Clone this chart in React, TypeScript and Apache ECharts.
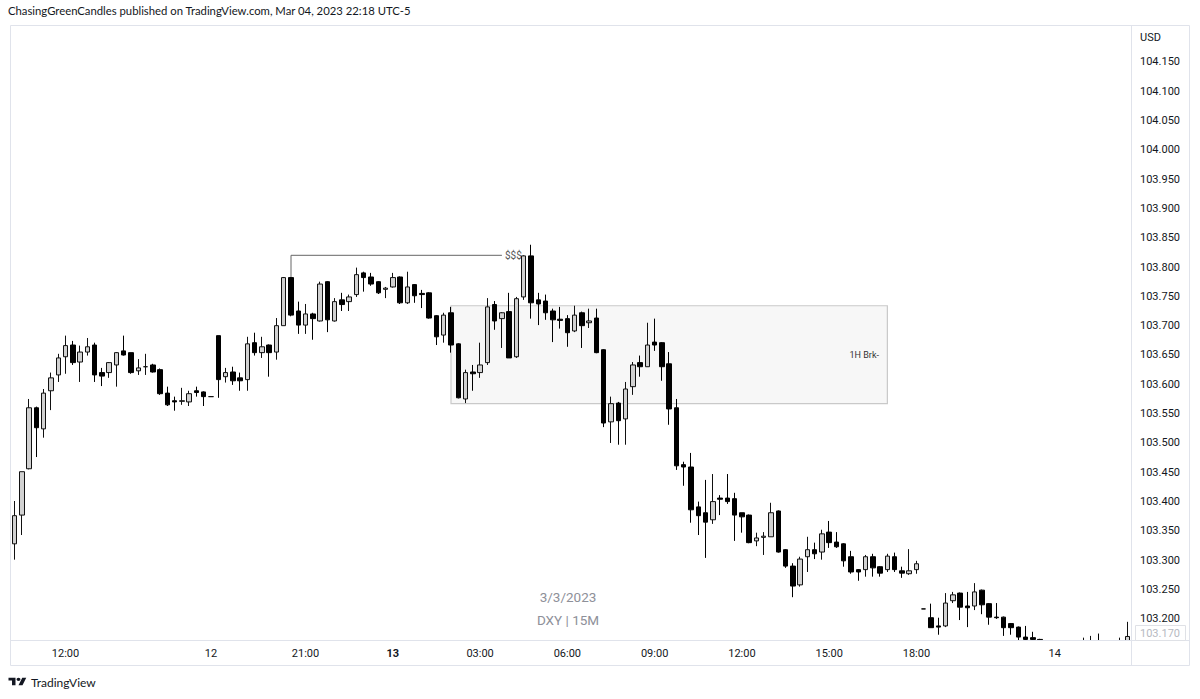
import React, { useEffect, useRef } from "react";
import * as echarts from "echarts";

// 15-minute DXY candles (0-based index along the time axis)
const opens = [
  103.328, 103.377, 103.456, 103.560, 103.524, 103.589, 103.616, 103.647, 103.667, 103.638,
  103.655, 103.667, 103.620, 103.620, 103.633, 103.657, 103.654, 103.623, 103.630, 103.633,
  103.625, 103.585, 103.572, 103.571, 103.570, 103.589, 103.587, 103.579, 103.683, 103.613,
  103.621, 103.611, 103.608, 103.671, 103.654, 103.667, 103.655, 103.700, 103.782, 103.725,
  103.701, 103.720, 103.708, 103.775, 103.708, 103.744, 103.741, 103.753, 103.790, 103.783,
  103.775, 103.762, 103.766, 103.783, 103.739, 103.770, 103.755, 103.756, 103.717, 103.684,
  103.722, 103.669, 103.575, 103.621, 103.620, 103.637, 103.736, 103.712, 103.724, 103.647,
  103.749, 103.819, 103.744, 103.742, 103.725, 103.711, 103.712, 103.691, 103.722, 103.705,
  103.713, 103.659, 103.536, 103.568, 103.541, 103.596, 103.637, 103.630, 103.672, 103.671,
  103.635, 103.560, 103.463, 103.459, 103.391, 103.381, 103.369, 103.406, 103.406, 103.405,
  103.381, 103.377, 103.333, 103.339, 103.340, 103.384, 103.318, 103.290, 103.258, 103.306,
  103.318, 103.314, 103.348, 103.331, 103.328, 103.306, 103.284, 103.284, 103.306, 103.289,
  103.284, 103.306, 103.282, 103.277, 103.284, 103.217, 103.202, 103.188, 103.188, 103.231,
  103.244, 103.222, 103.222, 103.249, 103.226, 103.203, 103.203, 103.192, 103.186, 103.169,
  103.168, 103.165, 103.158, 103.150, 103.145, 103.140, 103.148, 103.152, 103.155, 103.158,
  103.150, 103.152, 103.156, 103.160,
];
const closes = [
  103.376, 103.451, 103.560, 103.526, 103.585, 103.611, 103.645, 103.666, 103.637, 103.655,
  103.664, 103.616, 103.614, 103.637, 103.654, 103.650, 103.620, 103.628, 103.630, 103.621,
  103.584, 103.565, 103.570, 103.572, 103.584, 103.586, 103.579, 103.579, 103.608, 103.620,
  103.606, 103.606, 103.669, 103.654, 103.664, 103.654, 103.700, 103.782, 103.718, 103.701,
  103.720, 103.712, 103.771, 103.710, 103.741, 103.736, 103.749, 103.787, 103.782, 103.771,
  103.756, 103.764, 103.782, 103.739, 103.766, 103.751, 103.753, 103.713, 103.681, 103.718,
  103.667, 103.577, 103.620, 103.618, 103.633, 103.732, 103.708, 103.722, 103.645, 103.746,
  103.819, 103.739, 103.737, 103.722, 103.710, 103.709, 103.688, 103.718, 103.700, 103.708,
  103.654, 103.534, 103.567, 103.538, 103.592, 103.633, 103.630, 103.667, 103.667, 103.630,
  103.558, 103.461, 103.459, 103.386, 103.376, 103.365, 103.400, 103.404, 103.400, 103.377,
  103.374, 103.330, 103.338, 103.341, 103.381, 103.314, 103.290, 103.256, 103.302, 103.318,
  103.311, 103.345, 103.330, 103.323, 103.299, 103.280, 103.280, 103.306, 103.287, 103.278,
  103.307, 103.284, 103.278, 103.282, 103.294, 103.217, 103.185, 103.186, 103.227, 103.241,
  103.220, 103.219, 103.246, 103.224, 103.203, 103.202, 103.185, 103.185, 103.169, 103.165,
  103.165, 103.158, 103.150, 103.145, 103.140, 103.148, 103.152, 103.155, 103.158, 103.150,
  103.152, 103.156, 103.160, 103.170,
];
const lows = [
  103.301, 103.343, 103.455, 103.476, 103.509, 103.556, 103.604, 103.618, 103.633, 103.604,
  103.649, 103.604, 103.597, 103.611, 103.596, 103.649, 103.618, 103.616, 103.616, 103.620,
  103.582, 103.563, 103.555, 103.565, 103.563, 103.579, 103.563, 103.579, 103.577, 103.603,
  103.599, 103.589, 103.589, 103.649, 103.645, 103.613, 103.642, 103.700, 103.716, 103.686,
  103.686, 103.676, 103.707, 103.689, 103.707, 103.725, 103.725, 103.749, 103.758, 103.768,
  103.754, 103.747, 103.765, 103.737, 103.737, 103.739, 103.730, 103.712, 103.667, 103.671,
  103.654, 103.576, 103.568, 103.589, 103.611, 103.633, 103.693, 103.662, 103.645, 103.645,
  103.744, 103.712, 103.701, 103.710, 103.672, 103.695, 103.664, 103.689, 103.662, 103.696,
  103.653, 103.527, 103.500, 103.497, 103.497, 103.582, 103.613, 103.630, 103.657, 103.606,
  103.531, 103.454, 103.427, 103.364, 103.343, 103.304, 103.362, 103.377, 103.396, 103.333,
  103.347, 103.329, 103.324, 103.309, 103.340, 103.313, 103.287, 103.237, 103.255, 103.280,
  103.302, 103.301, 103.321, 103.321, 103.289, 103.277, 103.265, 103.272, 103.272, 103.272,
  103.280, 103.280, 103.270, 103.275, 103.277, 103.217, 103.185, 103.173, 103.186, 103.227,
  103.198, 103.186, 103.215, 103.208, 103.190, 103.200, 103.171, 103.173, 103.160, 103.155,
  103.155, 103.150, 103.142, 103.138, 103.132, 103.135, 103.142, 103.145, 103.148, 103.144,
  103.142, 103.146, 103.150, 103.155,
];
const highs = [
  103.401, 103.451, 103.575, 103.562, 103.592, 103.620, 103.652, 103.683, 103.674, 103.666,
  103.679, 103.671, 103.628, 103.638, 103.655, 103.683, 103.654, 103.643, 103.652, 103.635,
  103.627, 103.596, 103.579, 103.594, 103.589, 103.596, 103.588, 103.579, 103.683, 103.628,
  103.630, 103.620, 103.681, 103.688, 103.681, 103.668, 103.713, 103.783, 103.783, 103.741,
  103.737, 103.722, 103.775, 103.776, 103.747, 103.756, 103.753, 103.799, 103.792, 103.790,
  103.776, 103.766, 103.790, 103.784, 103.792, 103.771, 103.761, 103.757, 103.718, 103.722,
  103.732, 103.670, 103.625, 103.633, 103.671, 103.747, 103.742, 103.723, 103.756, 103.749,
  103.820, 103.838, 103.756, 103.753, 103.729, 103.732, 103.718, 103.734, 103.724, 103.729,
  103.729, 103.660, 103.579, 103.570, 103.604, 103.638, 103.649, 103.705, 103.712, 103.672,
  103.655, 103.575, 103.468, 103.483, 103.400, 103.437, 103.447, 103.411, 103.447, 103.415,
  103.381, 103.378, 103.347, 103.348, 103.398, 103.385, 103.319, 103.295, 103.306, 103.340,
  103.330, 103.352, 103.367, 103.348, 103.329, 103.316, 103.285, 103.309, 103.311, 103.290,
  103.311, 103.313, 103.289, 103.319, 103.299, 103.217, 103.226, 103.202, 103.244, 103.246,
  103.245, 103.246, 103.261, 103.250, 103.227, 103.227, 103.204, 103.193, 103.187, 103.188,
  103.178, 103.166, 103.162, 103.155, 103.150, 103.152, 103.160, 103.168, 103.171, 103.175,
  103.160, 103.162, 103.168, 103.195,
];

// time-axis labels: [candle index, text]
const xTickLabels: [number, string][] = [
  [7, "12:00"], [27, "12"], [40, "21:00"], [52, "13"], [64, "03:00"], [76, "06:00"],
  [88, "09:00"], [100, "12:00"], [112, "15:00"], [124, "18:00"], [143, "14"],
];
const boldTicks = ["13"];

// price-axis labels
const yTickValues = [
  103.2, 103.25, 103.3, 103.35, 103.4, 103.45, 103.5, 103.55, 103.6, 103.65,
  103.7, 103.75, 103.8, 103.85, 103.9, 103.95, 104.0, 104.05, 104.1, 104.15,
];

// drawings
const sweepLine: [number, number][] = [[38, 103.782], [38, 103.820], [67, 103.820]];
const sweepText = "$$$";
const zoneStart = 60;
const zoneEnd = 120;
const zoneTop = 103.734;
const zoneBottom = 103.567;
const zoneText = "1H Brk-";
const lastPrice = 103.170;

const TV_LOGO =
  "M14 22H7V11H0V4h14v18zM28 22h-8l7.5-18h8L28 22zM24 8a4 4 0 1 1-8 0a4 4 0 0 1 8 0z";

let registered = false;

export default function App() {
  const ref = useRef<HTMLDivElement>(null);
  useEffect(() => {
    if (!ref.current) return;
    if (!registered) {
      echarts.graphic.registerShape("tvlogo", echarts.graphic.extendPath(TV_LOGO, {}) as any);
      registered = true;
    }
    const chart = echarts.init(ref.current, undefined, { renderer: "svg" });
    const categories = opens.map((_, i) => String(i));
    const tickMap = new Map<number, string>(xTickLabels);
    const candles = opens.map((o, i) => [o, closes[i], lows[i], highs[i]]);
    const font = "Roboto, 'Noto Sans', sans-serif";
    const headFont = "Lato, Roboto, sans-serif";
    const textColor = "#131722";
    const frame = "#e0e3eb";

    chart.setOption({
      animation: false,
      backgroundColor: "#ffffff",
      textStyle: { fontFamily: font },
      grid: { left: 11, top: 26, width: 1120, height: 614, containLabel: false },
      xAxis: {
        type: "category",
        data: categories,
        boundaryGap: true,
        z: 20,
        axisLine: { show: false },
        axisTick: { show: false },
        splitLine: { show: false },
        axisLabel: {
          interval: (index: number) => tickMap.has(index),
          formatter: (_v: string, index: number) => {
            const t = tickMap.get(index) || "";
            return boldTicks.includes(t) ? `{b|${t}}` : t;
          },
          color: textColor,
          fontSize: 11,
          fontFamily: font,
          margin: 8,
          rich: { b: { fontWeight: "bold", fontSize: 11, color: textColor, fontFamily: font } },
        },
      },
      yAxis: {
        type: "value",
        position: "right",
        min: 103.164,
        max: 104.211,
        scale: true,
        z: 20,
        axisLine: { show: false },
        axisTick: { show: false },
        splitLine: { show: false },
        axisLabel: {
          customValues: yTickValues,
          formatter: (v: number) => v.toFixed(3),
          color: textColor,
          fontSize: 11,
          fontFamily: font,
          margin: 9,
          align: "left",
        },
      },
      series: [
        {
          type: "candlestick",
          data: candles,
          barWidth: 5,
          clip: true,
          itemStyle: {
            color: "#d1d1d1",
            color0: "#000000",
            borderColor: "#111111",
            borderColor0: "#000000",
            borderWidth: 1,
          },
          markArea: {
            silent: true,
            itemStyle: { color: "#f7f7f7", borderColor: "#c9c9c9", borderWidth: 1.2 },
            label: {
              show: true,
              position: "insideRight",
              distance: 9,
              color: "#333333",
              fontSize: 9,
              fontFamily: font,
            },
            data: [
              [
                { name: zoneText, coord: [String(zoneStart), zoneTop] },
                { coord: [String(zoneEnd), zoneBottom] },
              ],
            ],
          },
          z: 3,
        },
        {
          type: "line",
          data: sweepLine.map((p) => [String(p[0]), p[1]]),
          symbol: "none",
          lineStyle: { color: "#666666", width: 1 },
          endLabel: {
            show: true,
            formatter: sweepText,
            distance: 3,
            color: "#555555",
            fontSize: 10,
            fontFamily: font,
          },
          silent: true,
          z: 2,
        },
      ],
      graphic: [
        {
          type: "text",
          left: 8,
          top: 5,
          style: {
            text: "ChasingGreenCandles published on TradingView.com, Mar 04, 2023 22:18 UTC-5",
            fill: textColor,
            font: `11.3px ${headFont}`,
          },
        },
        {
          type: "rect",
          shape: { x: 11, y: 641, width: 1120, height: 24 },
          style: { fill: "#ffffff" },
          z: 15,
        },
        {
          type: "rect",
          shape: { x: 10.5, y: 25.5, width: 1179, height: 640 },
          style: { fill: "none", stroke: frame, lineWidth: 1 },
          z: 16,
        },
        {
          type: "line",
          shape: { x1: 1131.5, y1: 25.5, x2: 1131.5, y2: 665.5 },
          style: { stroke: frame, lineWidth: 1 },
          z: 16,
        },
        {
          type: "line",
          shape: { x1: 10.5, y1: 640.5, x2: 1189.5, y2: 640.5 },
          style: { stroke: frame, lineWidth: 1 },
          z: 16,
        },
        {
          type: "text",
          x: 1140,
          y: 37,
          style: { text: "USD", fill: textColor, font: `11px ${font}`, textVerticalAlign: "middle" },
          z: 16,
        },
        {
          type: "rect",
          shape: { x: 1135.5, y: 625.5, width: 50, height: 15 },
          style: { fill: "#ffffff", stroke: "#dfe1e6", lineWidth: 1 },
          z: 16,
        },
        {
          type: "text",
          x: 1140,
          y: 633,
          style: {
            text: lastPrice.toFixed(3),
            fill: "#b6b9c1",
            font: `11px ${font}`,
            textVerticalAlign: "middle",
          },
          z: 17,
        },
        {
          type: "text",
          x: 568,
          y: 597,
          style: {
            text: "3/3/2023",
            fill: "#8e9099",
            font: `13.5px ${font}`,
            textAlign: "center",
            textVerticalAlign: "middle",
          },
          z: 1,
        },
        {
          type: "text",
          x: 568,
          y: 620,
          style: {
            text: "DXY | 15M",
            fill: "#8e9099",
            font: `13.5px ${font}`,
            textAlign: "center",
            textVerticalAlign: "middle",
          },
          z: 1,
        },
        {
          type: "tvlogo",
          x: 8.5,
          y: 676,
          scaleX: 0.5,
          scaleY: 0.42,
          style: { fill: textColor },
        },
        {
          type: "text",
          x: 31,
          y: 682,
          style: {
            text: "TradingView",
            fill: textColor,
            font: `12px ${headFont}`,
            textVerticalAlign: "middle",
          },
        },
      ],
    });
    return () => chart.dispose();
  }, []);
  return <div ref={ref} style={{ width: 1200, height: 699, position: "absolute", left: 0, top: 0 }} />;
}
